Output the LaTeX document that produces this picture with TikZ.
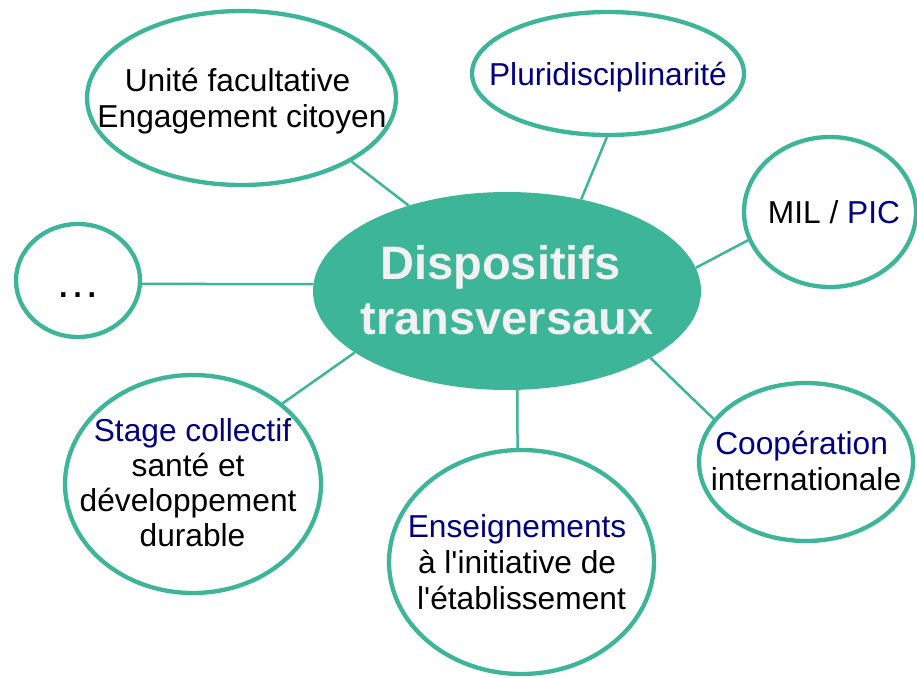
\documentclass[tikz,border=0pt]{standalone}
\usepackage{fontspec}
\setmainfont{Liberation Sans}[Ligatures=TeXOff]
\usetikzlibrary{shapes.geometric,backgrounds}
\definecolor{teal1}{RGB}{61,181,153}
\definecolor{navy1}{RGB}{0,0,128}
\definecolor{titlegray}{RGB}{242,242,242}
\newcommand{\trsp}{\kern8.8pt}
\tikzset{
  bubble/.style={ellipse, draw=teal1, line width=4.3pt, fill=white, inner sep=0pt},
  hub/.style={ellipse, fill=teal1, inner sep=0pt},
  link/.style={draw=teal1, line width=2.5pt},
  lbl/.style={align=center, inner sep=0pt, font=\fontsize{31.7}{36}\selectfont},
  hublbl/.style={align=center, inner sep=0pt, text=titlegray, font=\fontsize{47}{55}\selectfont\bfseries},
}
\begin{document}
\begin{tikzpicture}[x=1pt,y=-1pt]
\path[use as bounding box] (0,0) rectangle (917,677);
\clip (0,0) rectangle (917,677);

\node[hub, minimum width=388pt, minimum height=198pt] (main) at (507,291) {};
\node[bubble, minimum width=309pt, minimum height=174pt] (u) at (241.5,98) {};
\node[bubble, minimum width=272pt, minimum height=123pt] (p) at (608,73.5) {};
\node[bubble, minimum width=172pt, minimum height=150pt] (m) at (830,212) {};
\node[bubble, minimum width=214pt, minimum height=158pt] (c) at (806,462) {};
\node[bubble, minimum width=265pt, minimum height=224pt] (e) at (521.5,562) {};
\node[bubble, minimum width=256pt, minimum height=218pt] (s) at (193,484) {};
\node[bubble, minimum width=124pt, minimum height=113pt] (d) at (78,280.5) {};

\begin{scope}[on background layer]
  \draw[link] (main.139) -- (u.330);
  \draw[link] (main.51) -- (p.269);
  \draw[link] (main.7) -- (m.199);
  \draw[link] (main.335) -- (c.155);
  \draw[link] (main.276) -- (e.92);
  \draw[link] (main.202) -- (s.42);
  \draw[link] (main.178) -- (d.357);
\end{scope}

\node[hublbl] (maint) at (507,290.4) {Dispositifs\kern13pt\\transversaux};
\node[lbl] (ut) at (242,101.6) {Unité facultative\trsp\\Engagement citoyen};
\node[lbl, text=navy1] (pt) at (608,76.8) {Pluridisciplinarité};
\node[lbl] (mt) at (834,211.7) {MIL / \textcolor{navy1}{PIC}};
\node[lbl] (ct) at (806,461) {\textcolor{navy1}{Coopération}\trsp\\internationale};
\node[lbl] (et) at (521.5,562.5) {\textcolor{navy1}{Enseignements}\trsp\\à l'initiative de\trsp\\l'établissement};
\node[lbl, font=\fontsize{31.7}{35}\selectfont] (st) at (192.5,483) {\textcolor{navy1}{Stage collectif}\\santé et\trsp\\développement\trsp\\durable};
\node[inner sep=0pt, font=\fontsize{45}{50}\selectfont] (dt) at (78,294.7) {…};
\end{tikzpicture}
\end{document}
